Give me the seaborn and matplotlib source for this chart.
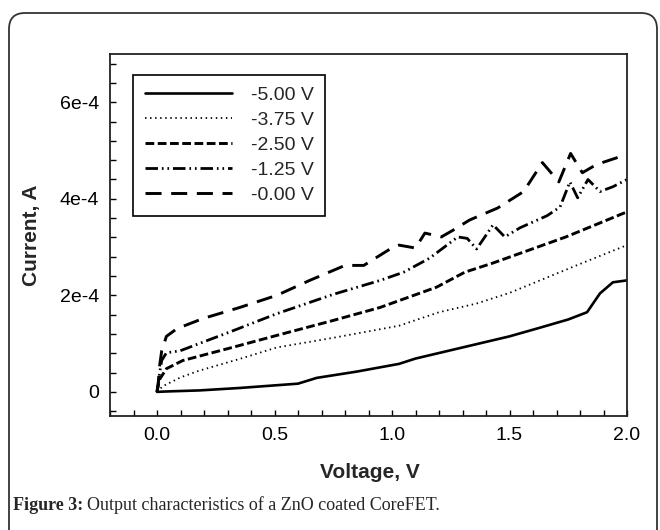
import matplotlib
matplotlib.use("Agg")
import matplotlib.pyplot as plt
from matplotlib.patches import FancyBboxPatch
from matplotlib.ticker import MultipleLocator, FixedLocator, FixedFormatter
import seaborn as sns

# ---- data ----
labels = ["-5.00 V", "-3.75 V", "-2.50 V", "-1.25 V", "-0.00 V"]

V_m500 = [0, 0.05, 0.18, 0.35, 0.6, 0.68, 0.85, 1.03, 1.1, 1.3, 1.5, 1.63, 1.75, 1.83, 1.885, 1.94, 2.0]
I_m500 = [0, 0.1e-5, 0.3e-5, 0.8e-5, 1.7e-5, 2.9e-5, 4.2e-5, 5.8e-5, 6.9e-5, 9.2e-5, 1.15e-4,
          1.33e-4, 1.5e-4, 1.65e-4, 2.04e-4, 2.27e-4, 2.31e-4]

V_m375 = [0, 0.01, 0.026, 0.1, 0.18, 0.35, 0.51, 0.75, 1.03, 1.2, 1.36, 1.5, 1.63, 1.8, 2.0]
I_m375 = [0, 0.5e-5, 1.2e-5, 3.0e-5, 4.4e-5, 6.8e-5, 9.2e-5, 1.12e-4, 1.37e-4, 1.65e-4,
          1.83e-4, 2.05e-4, 2.31e-4, 2.65e-4, 3.04e-4]

V_m250 = [0, 0.01, 0.04, 0.11, 0.32, 0.51, 0.75, 0.95, 1.19, 1.31, 1.43, 1.74, 2.0]
I_m250 = [0, 2.5e-5, 4.8e-5, 6.5e-5, 9.2e-5, 1.17e-4, 1.48e-4, 1.75e-4, 2.17e-4, 2.48e-4,
          2.67e-4, 3.21e-4, 3.73e-4]

V_m125 = [0, 0.01, 0.02, 0.04, 0.098, 0.32, 0.51, 0.75, 0.95, 1.05, 1.16, 1.28, 1.32, 1.36,
          1.43, 1.48, 1.545, 1.66, 1.715, 1.757, 1.79, 1.834, 1.885, 1.94, 2.0]
I_m125 = [0, 3.5e-5, 6.5e-5, 8.1e-5, 8.5e-5, 1.26e-4, 1.62e-4, 2.02e-4, 2.31e-4, 2.48e-4,
          2.77e-4, 3.21e-4, 3.18e-4, 2.96e-4, 3.46e-4, 3.21e-4, 3.40e-4, 3.65e-4, 3.83e-4,
          4.35e-4, 4.02e-4, 4.40e-4, 4.15e-4, 4.25e-4, 4.40e-4]

V_m000 = [0, 0.005, 0.01, 0.02, 0.04, 0.085, 0.196, 0.353, 0.51, 0.65, 0.8, 0.88, 0.949, 1.005,
          1.03, 1.10, 1.14, 1.21, 1.26, 1.33, 1.45, 1.56, 1.64, 1.71, 1.76, 1.81, 1.87, 2.0]
I_m000 = [0, 1.5e-5, 5e-5, 8.5e-5, 1.15e-4, 1.31e-4, 1.52e-4, 1.75e-4, 2.0e-4, 2.31e-4, 2.62e-4,
          2.62e-4, 2.83e-4, 3.0e-4, 3.04e-4, 2.98e-4, 3.29e-4, 3.21e-4, 3.35e-4, 3.56e-4, 3.81e-4,
          4.15e-4, 4.75e-4, 4.35e-4, 4.94e-4, 4.54e-4, 4.71e-4, 4.92e-4]

xticks = [0.0, 0.5, 1.0, 1.5, 2.0]
xticklabels = ["0.0", "0.5", "1.0", "1.5", "2.0"]
yticks = [0, 2e-4, 4e-4, 6e-4]
yticklabels = ["0", "2e-4", "4e-4", "6e-4"]

# ---- style ----
sns.set_style("ticks")
plt.rcParams["font.family"] = ["Liberation Sans", "DejaVu Sans"]

W, H = 660, 530
fig = plt.figure(figsize=(W / 100, H / 100), dpi=100)
fig.patch.set_facecolor("white")

L, R, T, B = 110, 627, 54, 416
ax = fig.add_axes([L / W, 1 - B / H, (R - L) / W, (B - T) / H])

series = [
    (V_m500, I_m500, dict(lw=1.9, linestyle="-")),
    (V_m375, I_m375, dict(lw=1.3, linestyle=(0, (0.8, 2.0)))),
    (V_m250, I_m250, dict(lw=2.1, linestyle=(0, (3.0, 1.2)))),
    (V_m125, I_m125, dict(lw=2.0, linestyle=(0, (4.5, 1.4, 0.6, 1.4, 0.6, 1.4)))),
    (V_m000, I_m000, dict(lw=2.1, linestyle=(0, (5.5, 3.3)))),
]
for (vx, iy, st), lab in zip(series, labels):
    sns.lineplot(x=vx, y=iy, ax=ax, color="black", sort=False, estimator=None,
                 label=lab, **st)

ax.set_xlim(-0.2, 2.0)
ax.set_ylim(-0.5e-4, 7e-4)
ax.xaxis.set_major_locator(FixedLocator(xticks))
ax.xaxis.set_major_formatter(FixedFormatter(xticklabels))
ax.xaxis.set_minor_locator(MultipleLocator(0.1))
ax.yaxis.set_major_locator(FixedLocator(yticks))
ax.yaxis.set_major_formatter(FixedFormatter(yticklabels))
ax.yaxis.set_minor_locator(MultipleLocator(0.4e-4))

ax.tick_params(axis="both", which="both", direction="in", length=4, width=1.0,
               colors="black", labelsize=14)
ax.tick_params(axis="x", which="major", pad=8)
ax.tick_params(axis="y", which="major", pad=8)
for side in ["top", "right"]:
    ax.tick_params(axis="both", which="both", **{side: False})
for sp in ax.spines.values():
    sp.set_visible(True)
    sp.set_linewidth(1.3)
    sp.set_color("#222222")

ax.set_xlabel("Voltage, V", fontsize=15, fontweight="bold")
ax.set_ylabel("Current, A", fontsize=15, fontweight="bold")
ax.xaxis.set_label_coords((370 - L) / (R - L), -(473 - B) / (B - T))
ax.xaxis.label.set_va("center")
ax.yaxis.set_label_coords(-(L - 31) / (R - L), 0.5)
ax.yaxis.label.set_va("center")

leg = ax.legend(loc="upper left", bbox_to_anchor=(133 / W, 1 - 75 / H),
                bbox_transform=fig.transFigure, frameon=True, fancybox=False,
                framealpha=1, edgecolor="black", fontsize=14, borderpad=0.6,
                labelspacing=0.38, handlelength=4.5, handletextpad=0.95,
                borderaxespad=0)
leg.get_frame().set_linewidth(1.2)

# ---- outer rounded frame ----
frame = FancyBboxPatch((9 / 100, -0.3), (657 - 9) / 100, (H - 13) / 100 + 0.3,
                       boxstyle="round,pad=0,rounding_size=0.16",
                       transform=fig.dpi_scale_trans, fill=False,
                       edgecolor="#333333", lw=1.3, clip_on=False)
fig.add_artist(frame)

# ---- caption ----
cap_y = 1 - 505 / H
t1 = fig.text(13 / W, cap_y, "Figure 3:", fontsize=13, fontweight="bold",
              family=["Liberation Serif"], va="center", ha="left")
fig.canvas.draw()
bb = t1.get_window_extent(renderer=fig.canvas.get_renderer())
fig.text((bb.x1 + 4) / W, cap_y, "Output characteristics of a ZnO coated CoreFET.",
         fontsize=13, family=["Liberation Serif"], va="center", ha="left")

fig.savefig("out.png", dpi=100)
